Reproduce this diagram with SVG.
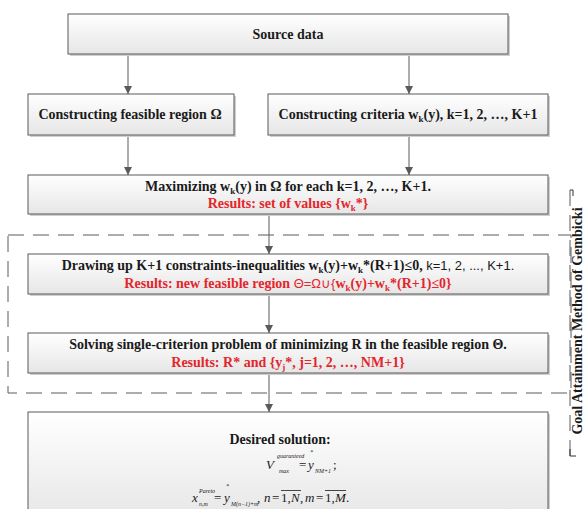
<svg xmlns="http://www.w3.org/2000/svg" width="584" height="509" viewBox="0 0 584 509">
<style>
.box{fill:url(#g);stroke:#5a5a5a;stroke-width:1}
.sh{fill:#cfcfcf}
.t{font-family:"Liberation Serif","Times New Roman",serif;font-weight:bold;font-size:14px;fill:#1a1a1a;text-anchor:middle}
.r{fill:#e3262c}
.s{font-size:9px}
.lt{font-family:"Liberation Sans",Arial,sans-serif;font-weight:normal;font-size:13px}
.m{font-family:"Liberation Serif","Times New Roman",serif;font-style:italic;font-size:13px;fill:#1a1a1a}
.m .n{font-style:normal}
.m .sm{font-size:6px}
.c{stroke:#5a5a5a;stroke-width:1;fill:none;marker-end:url(#a)}
.d{stroke:#5a5a5a;stroke-width:1;fill:none;stroke-dasharray:16 9}
.ol{stroke:#1a1a1a;stroke-width:0.8}
</style>
<defs>
<linearGradient id="g" x1="0" y1="0" x2="0" y2="1">
<stop offset="0" stop-color="#ffffff"/>
<stop offset="1" stop-color="#e6e6e6"/>
</linearGradient>
<marker id="a" markerUnits="userSpaceOnUse" markerWidth="10" markerHeight="10" refX="8" refY="4" orient="auto">
<path d="M0,0 L8,4 L0,8 Z" fill="#5a5a5a"/>
</marker>
</defs>
<rect width="584" height="509" fill="#ffffff"/>

<g id="frame">
<rect x="8" y="235" width="563" height="158" class="d"/>
</g>

<g id="bracket">
<path d="M573,196 V190 H570" stroke="#333" stroke-width="1" fill="none"/>
<path d="M570,190 V456" class="d" stroke="#333"/>
<path d="M570,449 V456 H576" stroke="#333" stroke-width="1" fill="none"/>
<text class="t" transform="translate(582,321) rotate(-90)" x="0" y="0" font-size="13.5">Goal Attainment Method of Gembicki</text>
</g>

<g id="connectors">
<path class="c" d="M128,54 V94"/>
<path class="c" d="M409,54 V94"/>
<path class="c" d="M128,135 V175"/>
<path class="c" d="M409,135 V175"/>
<path class="c" d="M269,214 V254"/>
<path class="c" d="M269,294 V333"/>
<path class="c" d="M269,373 V412"/>
</g>

<g id="source">
<rect class="sh" x="70" y="16" width="440" height="40"/>
<rect class="box" x="68" y="14" width="440" height="40"/>
<text class="t" x="288" y="39">Source data</text>
</g>

<g id="feasible">
<rect class="sh" x="30" y="96" width="206" height="41"/>
<rect class="box" x="28" y="94" width="206" height="41"/>
<text class="t" x="130" y="119">Constructing feasible region Ω</text>
</g>

<g id="criteria">
<rect class="sh" x="270" y="96" width="280" height="41"/>
<rect class="box" x="268" y="94" width="280" height="41"/>
<text class="t" x="408" y="119">Constructing criteria w<tspan class="s" dy="3">k</tspan><tspan dy="-3">(y), k=1, 2, …, K+1</tspan></text>
</g>

<g id="maximizing">
<rect class="sh" x="30" y="177" width="520" height="39"/>
<rect class="box" x="28" y="175" width="520" height="39"/>
<text class="t" x="288" y="191">Maximizing w<tspan class="s" dy="3">k</tspan><tspan dy="-3">(y) in Ω for each k=1, 2, …, K+1.</tspan></text>
<text class="t r" x="288" y="208">Results: set of values {w<tspan class="s" dy="3">k</tspan><tspan dy="-3">*}</tspan></text>
</g>

<g id="drawing">
<rect class="sh" x="30" y="256" width="520" height="40"/>
<rect class="box" x="28" y="254" width="520" height="40"/>
<text class="t" x="288" y="270">Drawing up K+1 constraints-inequalities w<tspan class="s" dy="3">k</tspan><tspan dy="-3">(y)+w</tspan><tspan class="s" dy="3">k</tspan><tspan dy="-3">*(R+1)≤0, </tspan><tspan class="lt">k=1, 2, ..., K+1.</tspan></text>
<text class="t r" x="288" y="288">Results: new feasible region <tspan class="lt">Θ=Ω∪{</tspan>w<tspan class="s" dy="3">k</tspan><tspan dy="-3">(y)+w</tspan><tspan class="s" dy="3">k</tspan><tspan dy="-3">*(R+1)≤0}</tspan></text>
</g>

<g id="solving">
<rect class="sh" x="30" y="335" width="520" height="40"/>
<rect class="box" x="28" y="333" width="520" height="40"/>
<text class="t" x="288" y="349">Solving single-criterion problem of minimizing R in the feasible region Θ.</text>
<text class="t r" x="288" y="367">Results: R* and {y<tspan class="s" dy="3">j</tspan><tspan dy="-3">*, j=1, 2, …, NM+1}</tspan></text>
</g>

<g id="desired">
<rect class="sh" x="30" y="414" width="520" height="110"/>
<rect class="box" x="28" y="412" width="520" height="110"/>
<text class="t" x="280" y="444" font-size="14.5">Desired solution:</text>
<text class="m" y="469" font-size="14.5"><tspan x="266">V</tspan><tspan class="sm" x="277" y="458" font-size="6.5">guaranteed</tspan><tspan class="sm" x="279" y="473" font-size="6.5">max</tspan><tspan class="n" x="299" y="469">=</tspan><tspan x="308">y</tspan><tspan class="sm" x="310" y="454" font-size="6.5">*</tspan><tspan class="sm" x="315" y="473" font-size="6.5">NM+1</tspan><tspan class="n" x="333" y="469">;</tspan></text>
<text class="m" y="502"><tspan x="192">x</tspan><tspan class="sm" x="199" y="493">Pareto</tspan><tspan class="sm" x="199" y="506">n,m</tspan><tspan class="n" x="214" y="502">=</tspan><tspan x="224">y</tspan><tspan class="sm" x="226" y="488">*</tspan><tspan class="sm" x="231" y="506">M(n−1)+m</tspan><tspan class="n" x="257" y="502">,</tspan><tspan x="264">n</tspan><tspan class="n" x="272">=</tspan><tspan class="n" x="281">1,</tspan><tspan x="291">N</tspan><tspan class="n" x="300">,</tspan><tspan x="305">m</tspan><tspan class="n" x="316">=</tspan><tspan class="n" x="325">1,</tspan><tspan x="335">M</tspan><tspan class="n" x="346">.</tspan></text>
<path class="ol" d="M281,490.5 H301 M325,490.5 H346"/>
</g>
</svg>
